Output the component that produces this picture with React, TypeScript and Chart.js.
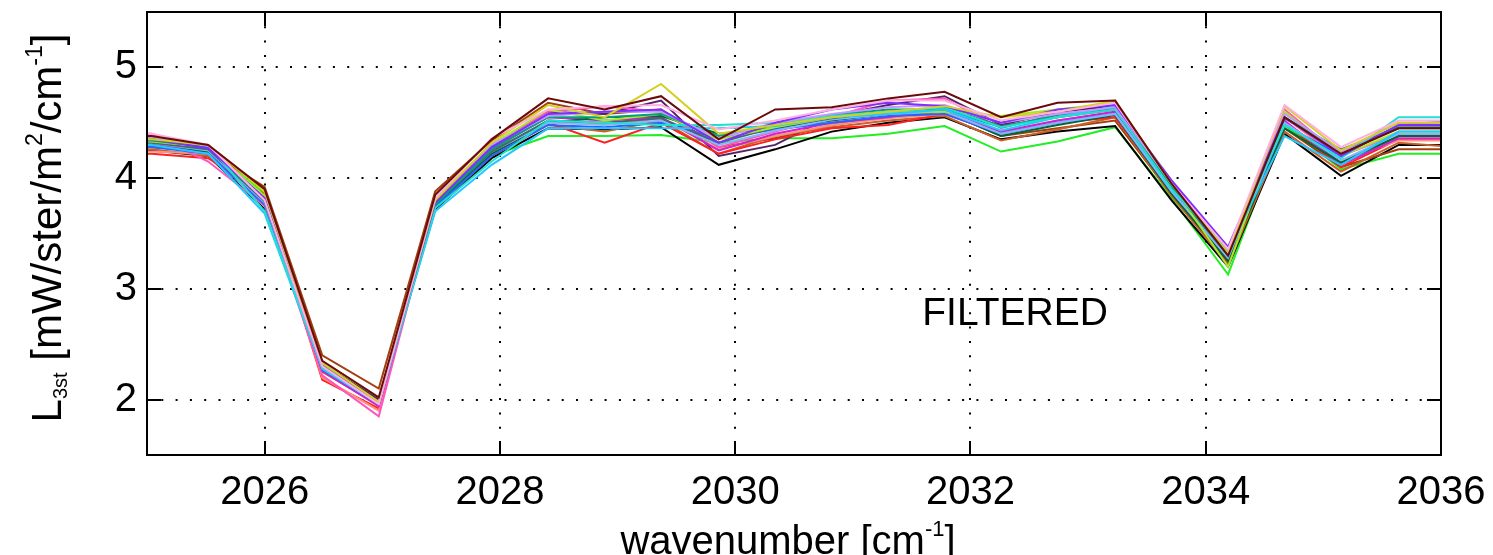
import React, { useEffect, useRef } from "react";
import { Chart, registerables } from "chart.js";

Chart.register(...registerables);

// Spectral sample positions (cm^-1)
const WAVENUMBER = [
  2024.56, 2025.04, 2025.52, 2026.0, 2026.49, 2026.97, 2027.45, 2027.93, 2028.41,
  2028.89, 2029.37, 2029.86, 2030.34, 2030.82, 2031.3, 2031.78, 2032.26, 2032.74,
  2033.23, 2033.71, 2034.19, 2034.67, 2035.15, 2035.64, 2036.12,
];

const X_TICKS = [2026, 2028, 2030, 2032, 2034, 2036];
const Y_TICKS = [2, 3, 4, 5];

// Filtered radiance spectra, one per scene
const SPEC_01 = [4.30, 4.30, 4.27, 3.86, 2.32, 2.00, 3.82, 4.20, 4.38, 4.38, 4.39, 4.32, 4.36, 4.36, 4.40, 4.47, 4.24, 4.33, 4.46, 3.82, 3.13, 4.48, 4.08, 4.22, 4.22];
const SPEC_02 = [4.30, 4.28, 4.24, 3.92, 2.40, 2.10, 3.88, 4.34, 4.68, 4.58, 4.62, 4.28, 4.36, 4.48, 4.55, 4.60, 4.38, 4.45, 4.52, 3.85, 3.25, 4.45, 4.10, 4.26, 4.26];
const SPEC_03 = [4.25, 4.25, 4.20, 3.72, 2.30, 1.97, 3.72, 4.18, 4.45, 4.44, 4.46, 4.12, 4.26, 4.42, 4.50, 4.55, 4.35, 4.42, 4.47, 3.80, 3.20, 4.40, 4.02, 4.30, 4.30];
const SPEC_04 = [4.38, 4.38, 4.30, 3.90, 2.35, 2.02, 3.85, 4.35, 4.72, 4.62, 4.74, 4.35, 4.62, 4.64, 4.72, 4.78, 4.55, 4.68, 4.70, 3.95, 3.30, 4.55, 4.22, 4.45, 4.45];
const SPEC_05 = [4.35, 4.35, 4.30, 3.88, 2.33, 1.98, 3.80, 4.32, 4.66, 4.55, 4.85, 4.40, 4.48, 4.55, 4.60, 4.65, 4.55, 4.60, 4.70, 3.95, 3.32, 4.65, 4.25, 4.50, 4.50];
const SPEC_06 = [4.30, 4.30, 4.22, 3.68, 2.28, 1.97, 3.70, 4.12, 4.45, 4.45, 4.45, 4.45, 4.47, 4.55, 4.58, 4.62, 4.43, 4.55, 4.65, 3.95, 3.35, 4.38, 4.12, 4.42, 4.42];
const SPEC_07 = [4.40, 4.40, 4.15, 3.75, 2.22, 1.85, 3.80, 4.30, 4.60, 4.65, 4.60, 4.28, 4.42, 4.55, 4.70, 4.72, 4.45, 4.58, 4.63, 3.92, 3.30, 4.62, 4.20, 4.40, 4.40];
const SPEC_08 = [4.22, 4.22, 4.18, 3.85, 2.18, 1.92, 3.78, 4.25, 4.50, 4.32, 4.50, 4.22, 4.35, 4.45, 4.48, 4.58, 4.40, 4.50, 4.55, 3.88, 3.25, 4.50, 4.10, 4.35, 4.35];
const SPEC_09 = [4.35, 4.35, 4.27, 3.82, 2.30, 1.98, 3.78, 4.28, 4.58, 4.60, 4.62, 4.32, 4.50, 4.62, 4.68, 4.65, 4.50, 4.62, 4.66, 3.98, 3.38, 4.55, 4.20, 4.48, 4.48];
const SPEC_10 = [4.34, 4.34, 4.28, 3.80, 2.32, 1.97, 3.76, 4.26, 4.55, 4.55, 4.58, 4.38, 4.48, 4.57, 4.62, 4.62, 4.46, 4.57, 4.63, 3.92, 3.30, 4.55, 4.25, 4.45, 4.45];
const SPEC_11 = [4.32, 4.32, 4.25, 3.78, 2.28, 1.96, 3.78, 4.24, 4.50, 4.48, 4.52, 4.30, 4.43, 4.53, 4.58, 4.60, 4.40, 4.50, 4.58, 3.88, 3.28, 4.50, 4.16, 4.40, 4.40];
const SPEC_12 = [4.28, 4.28, 4.24, 3.80, 2.28, 1.96, 3.75, 4.22, 4.50, 4.55, 4.56, 4.40, 4.45, 4.52, 4.58, 4.60, 4.38, 4.48, 4.57, 3.86, 3.25, 4.45, 4.14, 4.38, 4.38];
const SPEC_13 = [4.30, 4.30, 4.25, 3.78, 2.26, 1.94, 3.77, 4.27, 4.55, 4.52, 4.55, 4.25, 4.40, 4.50, 4.55, 4.62, 4.42, 4.52, 4.60, 3.90, 3.26, 4.52, 4.12, 4.36, 4.36];
const SPEC_14 = [4.33, 4.33, 4.28, 3.84, 2.31, 1.97, 3.80, 4.30, 4.62, 4.52, 4.58, 4.35, 4.46, 4.55, 4.60, 4.60, 4.56, 4.62, 4.68, 3.94, 3.20, 4.60, 4.20, 4.42, 4.42];
const SPEC_15 = [4.28, 4.28, 4.22, 3.76, 2.27, 1.96, 3.74, 4.20, 4.48, 4.46, 4.50, 4.36, 4.44, 4.50, 4.56, 4.58, 4.40, 4.50, 4.58, 3.88, 3.30, 4.48, 4.20, 4.48, 4.52];
const SPEC_16 = [4.40, 4.40, 4.30, 3.80, 2.30, 1.96, 3.82, 4.36, 4.62, 4.65, 4.66, 4.44, 4.52, 4.62, 4.70, 4.70, 4.52, 4.60, 4.68, 3.95, 3.36, 4.66, 4.28, 4.52, 4.52];
const SPEC_17 = [4.32, 4.32, 4.26, 3.79, 2.31, 1.98, 3.77, 4.24, 4.52, 4.50, 4.54, 4.32, 4.46, 4.54, 4.60, 4.64, 4.47, 4.55, 4.62, 3.92, 3.32, 4.54, 4.26, 4.46, 4.46];
const SPEC_18 = [4.26, 4.26, 4.20, 3.78, 2.25, 1.95, 3.74, 4.20, 4.48, 4.42, 4.52, 4.22, 4.38, 4.46, 4.52, 4.56, 4.34, 4.44, 4.55, 3.84, 3.22, 4.42, 4.06, 4.32, 4.28];
const SPEC_19 = [4.36, 4.36, 4.30, 3.70, 2.29, 1.97, 3.73, 4.15, 4.52, 4.50, 4.48, 4.48, 4.50, 4.56, 4.60, 4.64, 4.46, 4.55, 4.62, 3.90, 3.36, 4.48, 4.18, 4.55, 4.55];
const SPEC_20 = [4.30, 4.30, 4.24, 3.82, 2.32, 2.00, 3.80, 4.30, 4.60, 4.58, 4.70, 4.20, 4.30, 4.56, 4.66, 4.74, 4.48, 4.60, 4.65, 3.88, 3.22, 4.50, 4.14, 4.38, 4.38];
const SPEC_21 = [4.24, 4.24, 4.22, 3.83, 2.20, 1.90, 3.76, 4.23, 4.52, 4.48, 4.54, 4.26, 4.38, 4.48, 4.54, 4.58, 4.42, 4.52, 4.58, 3.90, 3.28, 4.55, 4.16, 4.34, 4.34];
const SPEC_22 = [4.37, 4.37, 4.29, 3.81, 2.30, 1.97, 3.80, 4.30, 4.56, 4.60, 4.60, 4.36, 4.50, 4.58, 4.64, 4.66, 4.50, 4.58, 4.64, 3.96, 3.36, 4.58, 4.24, 4.50, 4.50];

const SPECTRA = [
  SPEC_04, SPEC_16, SPEC_05, SPEC_09, SPEC_22, SPEC_19, SPEC_06, SPEC_10, SPEC_14,
  SPEC_17, SPEC_11, SPEC_15, SPEC_12, SPEC_13, SPEC_07, SPEC_21, SPEC_08, SPEC_18,
  SPEC_20, SPEC_02, SPEC_03, SPEC_01,
];

const COLORS = [
  "#6a0a0a", "#ffb0e0", "#d4d020", "#7a30ff", "#c098ff", "#20e0d0", "#22c8ff", "#00a080",
  "#a8e828", "#446677", "#80b8ff", "#3060ff", "#006633", "#d020d0", "#ff55bb", "#ff9080",
  "#ff2020", "#c86028", "#552266", "#a04010", "#000000", "#22ee22",
];

const FONT = "'Liberation Sans', Arial, Helvetica, sans-serif";
const NOTE_TEXT = "FILTERED";
const NOTE_POS = { x: 2031.59, y: 2.672 };

type Run = { text: string; size: number; shift: number };

const Y_TITLE: Run[] = [
  { text: "L", size: 42, shift: 0 },
  { text: "3st", size: 20, shift: 6 },
  { text: " [mW/ster/m", size: 42, shift: 0 },
  { text: "2", size: 23, shift: -19 },
  { text: "/cm", size: 42, shift: 0 },
  { text: "-1", size: 23, shift: -19 },
  { text: "]", size: 42, shift: 0 },
];

const X_TITLE: Run[] = [
  { text: "wavenumber [cm", size: 40, shift: 0 },
  { text: "-1", size: 22, shift: -18 },
  { text: "]", size: 40, shift: 0 },
];

function runsWidth(ctx: CanvasRenderingContext2D, runs: Run[]) {
  let w = 0;
  for (const r of runs) {
    ctx.font = `${r.size}px ${FONT}`;
    w += ctx.measureText(r.text).width;
  }
  return w;
}

function drawRuns(ctx: CanvasRenderingContext2D, runs: Run[], x0: number) {
  let x = x0;
  for (const r of runs) {
    ctx.font = `${r.size}px ${FONT}`;
    ctx.fillText(r.text, x, r.shift);
    x += ctx.measureText(r.text).width;
  }
}

const framePlugin = {
  id: "matlabFrame",
  afterDatasetsDraw(chart: any) {
    const { ctx, chartArea } = chart;
    const { left, right, top, bottom } = chartArea;
    const xs = chart.scales.x;
    const ys = chart.scales.y;
    const tick = 14;
    ctx.save();
    ctx.strokeStyle = "#000";
    ctx.lineWidth = 2;
    ctx.strokeRect(left, top, right - left, bottom - top);
    ctx.beginPath();
    for (const v of X_TICKS) {
      const px = Math.round(xs.getPixelForValue(v));
      ctx.moveTo(px, bottom);
      ctx.lineTo(px, bottom - tick);
      ctx.moveTo(px, top);
      ctx.lineTo(px, top + tick);
    }
    for (const v of Y_TICKS) {
      const py = Math.round(ys.getPixelForValue(v));
      ctx.moveTo(left, py);
      ctx.lineTo(left + tick, py);
      ctx.moveTo(right, py);
      ctx.lineTo(right - tick, py);
    }
    ctx.stroke();
    ctx.restore();
  },
  afterDraw(chart: any) {
    const { ctx } = chart;
    const xs = chart.scales.x;
    const ys = chart.scales.y;
    ctx.save();
    ctx.fillStyle = "#000";
    ctx.textBaseline = "alphabetic";
    ctx.textAlign = "left";

    // annotation inside the plot
    ctx.font = `39px ${FONT}`;
    ctx.fillText(NOTE_TEXT, xs.getPixelForValue(NOTE_POS.x), ys.getPixelForValue(NOTE_POS.y));

    // x-axis title
    const xw = runsWidth(ctx, X_TITLE);
    ctx.save();
    ctx.translate(788 - xw / 2, 554);
    drawRuns(ctx, X_TITLE, 0);
    ctx.restore();

    // y-axis title, rotated
    const yw = runsWidth(ctx, Y_TITLE);
    ctx.save();
    ctx.translate(61, 228);
    ctx.rotate(-Math.PI / 2);
    drawRuns(ctx, Y_TITLE, -yw / 2);
    ctx.restore();

    ctx.restore();
  },
};

export default function App() {
  const canvasRef = useRef<HTMLCanvasElement | null>(null);

  useEffect(() => {
    const canvas = canvasRef.current;
    if (!canvas) return;
    const datasets = SPECTRA.map((vals, i) => ({
      label: `scene ${i + 1}`,
      data: vals.map((y, j) => ({ x: WAVENUMBER[j], y })),
      borderColor: COLORS[i],
      backgroundColor: COLORS[i],
      borderWidth: 2,
      pointRadius: 0,
      tension: 0,
      fill: false,
    }));

    const chart = new Chart(canvas, {
      type: "line",
      data: { datasets },
      options: {
        animation: false,
        responsive: false,
        devicePixelRatio: 1,
        layout: { padding: { left: 0, right: 52, top: 12, bottom: 0 } },
        plugins: {
          legend: { display: false },
          tooltip: { enabled: false },
        },
        scales: {
          x: {
            type: "linear",
            min: 2025,
            max: 2036,
            afterBuildTicks: (s: any) => {
              s.ticks = X_TICKS.map((v) => ({ value: v }));
            },
            afterFit: (s: any) => {
              s.height = 100;
              s.paddingLeft = 0;
              s.paddingRight = 0;
              s.paddingTop = 0;
              s.paddingBottom = 0;
            },
            ticks: {
              color: "#000",
              font: { family: FONT, size: 40 },
              padding: 14,
              maxRotation: 0,
              autoSkip: false,
              callback: (v: any) => String(v),
            },
            grid: { color: "#000", lineWidth: 2, drawTicks: false },
            border: { display: false, dash: [2, 12.3] },
          },
          y: {
            type: "linear",
            min: 1.5,
            max: 5.5,
            afterBuildTicks: (s: any) => {
              s.ticks = Y_TICKS.map((v) => ({ value: v }));
            },
            afterFit: (s: any) => {
              s.width = 147;
              s.paddingLeft = 0;
              s.paddingRight = 0;
              s.paddingTop = 0;
              s.paddingBottom = 0;
            },
            ticks: {
              color: "#000",
              font: { family: FONT, size: 40 },
              padding: 10,
              autoSkip: false,
              callback: (v: any) => String(v),
            },
            grid: { color: "#000", lineWidth: 2, drawTicks: false },
            border: { display: false, dash: [2, 12.3] },
          },
        },
      },
      plugins: [framePlugin],
    });

    return () => chart.destroy();
  }, []);

  return (
    <div style={{ position: "fixed", left: 0, top: 0, width: 1493, height: 555, background: "#fff", overflow: "hidden" }}>
      <canvas ref={canvasRef} width={1493} height={555} style={{ display: "block" }} />
    </div>
  );
}
